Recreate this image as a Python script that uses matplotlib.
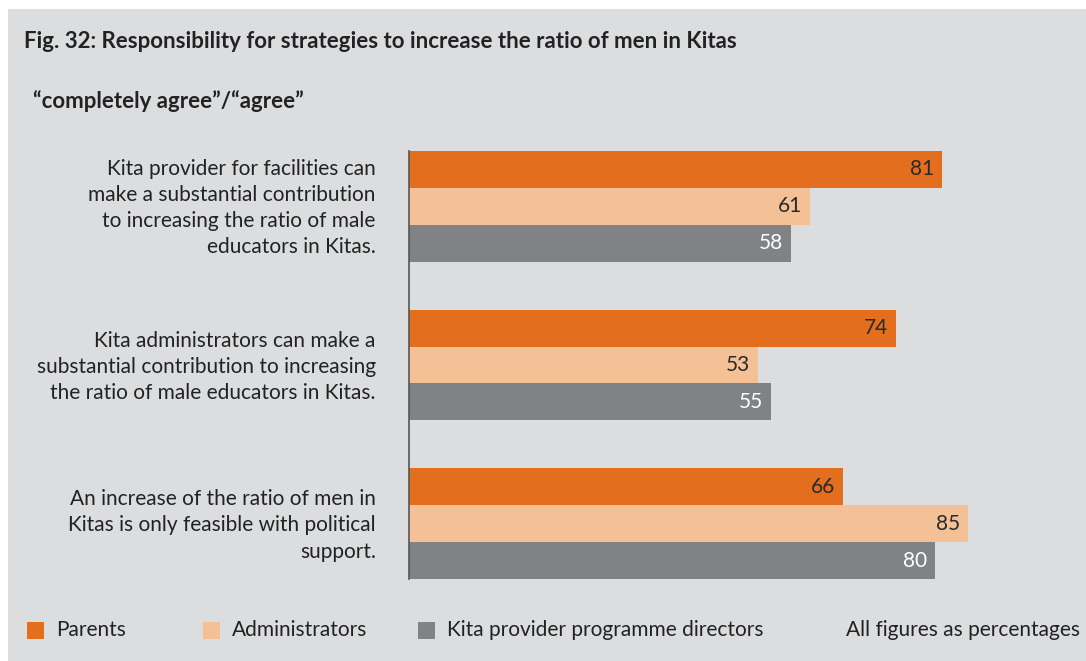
import matplotlib.pyplot as plt
import matplotlib.patches as mpatches
import numpy as np

# ------------------------------------------------
# DATA
# ------------------------------------------------
categories = [
    "Kita provider for facilities can\nmake a substantial contribution\nto increasing the ratio of male\neducators in Kitas.",
    "Kita administrators can make a\nsubstantial contribution to increasing\nthe ratio of male educators in Kitas.",
    "An increase of the ratio of men in\nKitas is only feasible with political\nsupport.",
]
series_names = ["Parents", "Administrators", "Kita provider programme directors"]
parents = [81, 74, 66]
administrators = [61, 53, 85]
directors = [58, 55, 80]

colors = ["#e36f1e", "#f4c197", "#818285"]
label_colors = ["#2a2a2a", "#2a2a2a", "white"]
bg = "#dcdddf"
text_col = "#222222"

plt.rcParams['font.family'] = ['Lato', 'DejaVu Sans']

W, H = 1086, 661
fig = plt.figure(figsize=(W / 100, H / 100), dpi=100, facecolor="white")


def fx(x):
    return x / W


def fy(y):
    return 1 - y / H


# grey panel
fig.patches.append(mpatches.Rectangle((fx(8), 0), 1 - fx(8), fy(9), transform=fig.transFigure,
                                      facecolor=bg, edgecolor="none", zorder=-10))

# ------------------------------------------------
# AXES
# ------------------------------------------------
ax_left, ax_right = 409, 409 + 6.58 * 100
ax_top, ax_bot = 151, 579
ax = fig.add_axes([fx(ax_left), fy(ax_bot), fx(ax_right - ax_left), (ax_bot - ax_top) / H])
ax.set_facecolor("none")
ax.set_zorder(2)

h = 0.233
y = np.arange(len(categories))
all_series = [parents, administrators, directors]
for i, vals in enumerate(all_series):
    pos = y + (i - 1) * h
    ax.barh(pos, vals, height=h, color=colors[i], edgecolor="none")
    for p, v in zip(pos, vals):
        ax.text(v - 1.2, p, str(v), ha="right", va="center", fontsize=15,
                color=label_colors[i])

ax.set_xlim(0, 100)
ax.set_ylim(2 + 1.5 * h, -1.5 * h)
ax.set_yticks(y - 0.02)
ax.set_yticklabels(categories, fontsize=15, color=text_col, linespacing=1.38)
for lab in ax.get_yticklabels():
    lab.set_horizontalalignment("right")
ax.tick_params(axis="y", length=0, pad=24)
ax.set_xticks([])
for s in ["top", "right", "bottom"]:
    ax.spines[s].set_visible(False)
ax.spines["left"].set_color("#555555")
ax.spines["left"].set_linewidth(1.2)

# ------------------------------------------------
# TITLES
# ------------------------------------------------
fig.text(fx(24), fy(42), "Fig. 32: Responsibility for strategies to increase the ratio of men in Kitas",
         fontsize=16, fontweight="bold", color=text_col, va="center", ha="left")
fig.text(fx(33), fy(101), "\u201ccompletely agree\u201d/\u201cagree\u201d",
         fontsize=16, fontweight="bold", color=text_col, va="center", ha="left")

# ------------------------------------------------
# LEGEND
# ------------------------------------------------
leg_x = [27, 203, 418]
for i, name in enumerate(series_names):
    fig.patches.append(mpatches.Rectangle((fx(leg_x[i]), fy(639)), fx(17), 17 / H,
                                          transform=fig.transFigure, facecolor=colors[i],
                                          edgecolor="none"))
    fig.text(fx(leg_x[i] + 29), fy(630), name, fontsize=15, color=text_col,
             va="center", ha="left")
fig.text(fx(1080), fy(630), "All figures as percentages", fontsize=15, color=text_col,
         va="center", ha="right")

fig.savefig("out.png", dpi=100, facecolor="white")
